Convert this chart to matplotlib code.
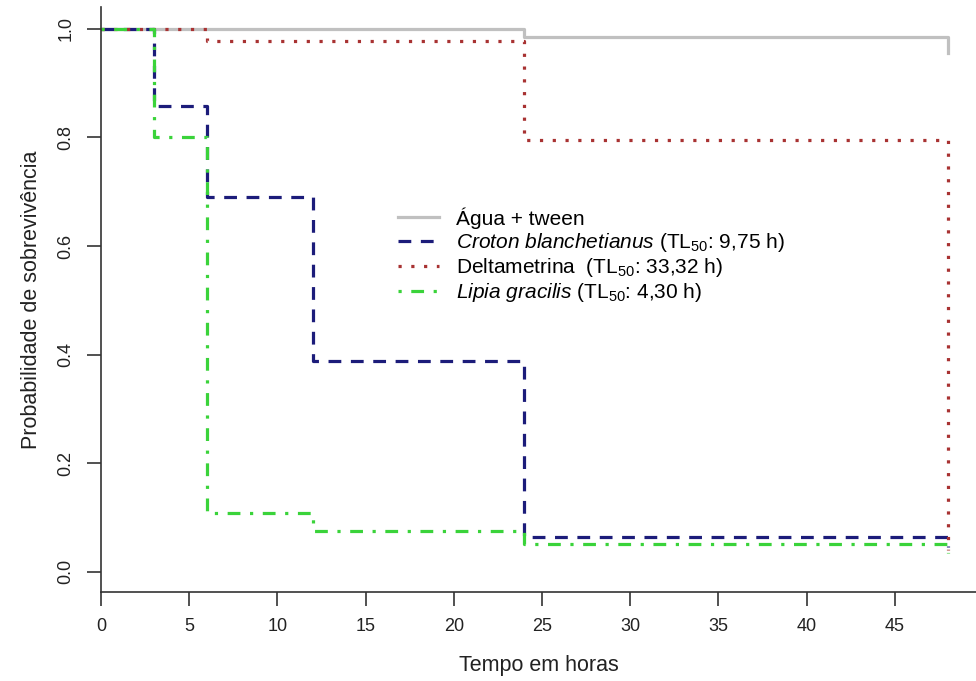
import matplotlib
matplotlib.use("Agg")
import matplotlib.pyplot as plt

plt.rcParams['font.family'] = ['Liberation Sans', 'DejaVu Sans']
plt.rcParams['mathtext.fontset'] = 'custom'
plt.rcParams['mathtext.rm'] = 'Liberation Sans'
plt.rcParams['mathtext.it'] = 'Liberation Sans:italic'

# Kaplan-Meier curves
agua_t = [0, 24, 48]
agua_s = [1.0, 0.985, 0.955]
croton_t = [0, 3, 6, 12, 24, 48]
croton_s = [1.0, 0.857, 0.69, 0.388, 0.065, 0.045]
delta_t = [0, 6, 24, 48]
delta_s = [1.0, 0.978, 0.795, 0.04]
lipia_t = [0, 3, 6, 12, 24, 48]
lipia_s = [1.0, 0.80, 0.108, 0.075, 0.052, 0.035]

labels = ['Água + tween',
          r'$\it{Croton\ blanchetianus}$ (TL$_{50}$: 9,75 h)',
          r'Deltametrina  (TL$_{50}$: 33,32 h)',
          r'$\it{Lipia\ gracilis}$ (TL$_{50}$: 4,30 h)']

xticks = list(range(0, 50, 5))
yticks = [0.0, 0.2, 0.4, 0.6, 0.8, 1.0]

fig = plt.figure(figsize=(9.76, 6.81), dpi=100)
ax = fig.add_axes([101 / 976, 89 / 681, 875 / 976, 585 / 681])

ax.plot(agua_t, agua_s, drawstyle='steps-post', color='#c0c0c0', lw=2.3, label=labels[0])
ax.plot(croton_t, croton_s, drawstyle='steps-post', color='#1c1c7a', lw=2.3,
        dashes=(4, 3), label=labels[1])
ax.plot(delta_t, delta_s, drawstyle='steps-post', color='#a83232', lw=2.3,
        dashes=(1, 3), label=labels[2])
ax.plot(lipia_t, lipia_s, drawstyle='steps-post', color='#3ad33a', lw=2.3,
        dashes=(1, 3, 4, 3), label=labels[3])

ax.set_xlim(0, 49.6)
ax.set_ylim(-0.037, 1.04)
ax.set_xticks(xticks)
ax.set_xticklabels([str(t) for t in xticks])
ax.set_yticks(yticks)
ax.set_yticklabels(['%.1f' % v for v in yticks], rotation=90, va='center')

for s in ['top', 'right']:
    ax.spines[s].set_visible(False)
for s in ['left', 'bottom']:
    ax.spines[s].set_color('#333333')
    ax.spines[s].set_linewidth(1.2)
ax.tick_params(length=10, width=1.2, color='#333333', labelsize=13, labelcolor='#222222', pad=9)

ax.set_xlabel('Tempo em horas', fontsize=15.5, color='#222222', labelpad=14)
ax.set_ylabel('Probabilidade de sobrevivência', fontsize=15.5, color='#222222', labelpad=11)

leg = ax.legend(loc='upper left', bbox_to_anchor=(0.33, 0.672), frameon=False,
                fontsize=15, handlelength=1.95, handletextpad=0.85, labelspacing=0.1,
                borderaxespad=0)

fig.savefig('out.png', dpi=100)
